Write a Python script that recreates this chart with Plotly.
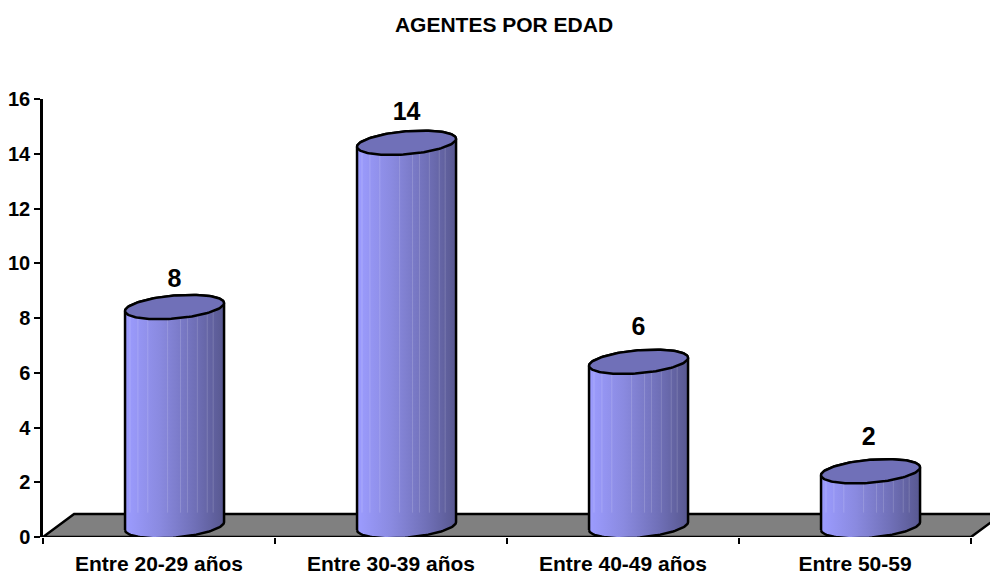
import numpy as np
import plotly.graph_objects as go

TITLE = "AGENTES POR EDAD"
categories = ["Entre 20-29 años", "Entre 30-39 años", "Entre 40-49 años", "Entre 50-59"]
values = [8, 14, 6, 2]
y_ticks = [0, 2, 4, 6, 8, 10, 12, 14, 16]
x_edges = [0, 1, 2, 3, 4]

FONT = "Liberation Sans, Arial, sans-serif"
# Pseudo-3D geometry, in axis units
DEPTH_Y = 0.40      # lift of each cylinder's axis above the front plane
FLOOR_Y = 0.84
FLOOR_X = 0.134
OFFSET_X = 0.067    # horizontal shift of the cylinder centre from the category centre
RX = 0.2134
RY = 0.42
SHEAR = 0.146
STREAKS = [0.05, 0.13, 0.23, 0.43, 0.56, 0.63, 0.73, 0.83, 0.89]
LABEL_GAP = [0.5, 0.6, 0.75, 0.75]
LABEL_NUDGE_X = [0, 0, 0, -0.008]
LW = 2.5

GRADIENT = [[0, "#9c9cff"], [0.35, "#8a8ae0"], [0.7, "#7070b8"], [1, "#585890"]]
CAP = "#7070b8"

fig = go.Figure()

# Floor (its front edge is the visible category-axis line)
fig.add_trace(go.Scatter(
    x=[0, FLOOR_X, 4 + FLOOR_X, 4, 0], y=[0, FLOOR_Y, FLOOR_Y, 0, 0],
    mode="lines", fill="toself", fillcolor="#808080",
    line=dict(color="black", width=LW), cliponaxis=False, hoverinfo="skip"))


def ellipse(cx, cy, t):
    return cx + RX * np.cos(t), cy + SHEAR * np.cos(t) + RY * np.sin(t)


for i, v in enumerate(values):
    cx = i + 0.5 + OFFSET_X
    top = v + DEPTH_Y
    t_front = np.linspace(np.pi, 2 * np.pi, 60)
    t_back = np.linspace(0, np.pi, 60)
    bx, by = ellipse(cx, DEPTH_Y, t_front)
    tx, ty = ellipse(cx, top, t_back)
    # Body
    fig.add_trace(go.Scatter(
        x=np.concatenate([bx, tx, bx[:1]]),
        y=np.concatenate([by, ty, by[:1]]),
        mode="lines", fill="toself",
        fillgradient=dict(type="horizontal", colorscale=GRADIENT),
        line=dict(color="black", width=LW), cliponaxis=False, hoverinfo="skip"))
    # Faint vertical streaks of the banded shading
    sx, sy = [], []
    for f in STREAKS:
        x = cx - RX + 2 * RX * f
        sx += [x, x, None]
        sy += [FLOOR_Y + 0.05, top, None]
    fig.add_trace(go.Scatter(x=sx, y=sy, mode="lines",
                             line=dict(color="rgba(255,255,255,0.16)", width=1),
                             cliponaxis=False, hoverinfo="skip"))
    # Cap
    t_all = np.linspace(0, 2 * np.pi, 120)
    ex, ey = ellipse(cx, top, t_all)
    fig.add_trace(go.Scatter(
        x=ex, y=ey, mode="lines", fill="toself", fillcolor=CAP,
        line=dict(color="black", width=LW), cliponaxis=False, hoverinfo="skip"))
    # Value label
    fig.add_trace(go.Scatter(
        x=[cx + LABEL_NUDGE_X[i]], y=[top + LABEL_GAP[i]], mode="text",
        text=[f"<b>{v}</b>"], textposition="top center",
        textfont=dict(family=FONT, size=25, color="black"),
        cliponaxis=False, hoverinfo="skip"))

# The plot area runs to the page edge so the floor can run off it; one category is 232 px wide.
fig.update_layout(
    width=990, height=574, showlegend=False,
    margin=dict(l=43, r=0, t=99, b=37, autoexpand=False),
    paper_bgcolor="white", plot_bgcolor="white",
    title=dict(text=f"<b>{TITLE}</b>", x=504 / 990, xanchor="center", xref="container",
               y=1 - 25 / 574, yanchor="middle", yref="container",
               font=dict(family=FONT, size=21, color="black")),
    xaxis=dict(range=[0, 947 / 232], tickmode="array", tickvals=[i + 0.5 for i in range(4)],
               ticktext=[f"<b>{c}</b>" for c in categories], ticks="", showgrid=False,
               zeroline=False, showline=False,
               ticklabelstandoff=12, fixedrange=True,
               tickfont=dict(family=FONT, size=21, color="black"),
               minor=dict(tickmode="array", tickvals=x_edges, ticks="outside", ticklen=6,
                          tickwidth=2, tickcolor="black", showgrid=False)),
    yaxis=dict(range=[0, 16], tickmode="array", tickvals=y_ticks,
               ticktext=[f"<b>{t}</b>" for t in y_ticks], ticks="outside", ticklen=6,
               tickwidth=2, tickcolor="black", showgrid=False, zeroline=False,
               showline=True, linecolor="black", linewidth=2.5, fixedrange=True,
               tickfont=dict(family=FONT, size=20, color="black")),
)

fig.write_html("out.html", config={"displayModeBar": False},
               post_script="document.body.style.margin='0';document.body.style.overflow='hidden';")
